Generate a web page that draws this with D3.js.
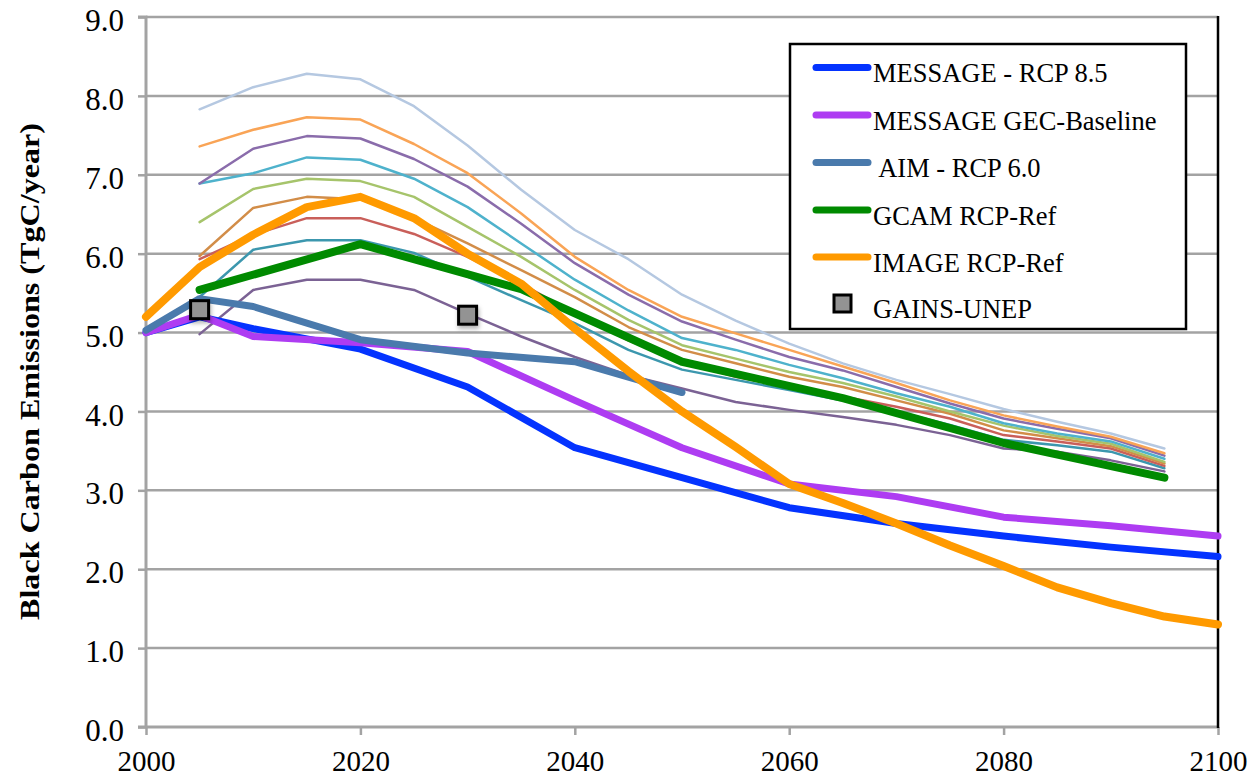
<!DOCTYPE html>
<html>
<head>
<meta charset="utf-8">
<script src="https://cdn.jsdelivr.net/npm/d3@7"></script>
<style>
  html, body { margin: 0; padding: 0; background: #fff; }
  svg { display: block; }
  text { font-family: "Liberation Serif", "Times New Roman", serif; fill: #000; }
</style>
</head>
<body>
<svg id="chart" width="1254" height="778"></svg>
<script>
// ---------- DATA ----------
const xTicks = [2000, 2020, 2040, 2060, 2080, 2100];
const yTicks = [0, 1, 2, 3, 4, 5, 6, 7, 8, 9];

// background (unlabelled) scenario years and values
const thinYears = [2005, 2010, 2015, 2020, 2025, 2030, 2035, 2040, 2045, 2050, 2055, 2060, 2065, 2070, 2075, 2080, 2085, 2090, 2095];
const thinLightBlue  = [7.83, 8.11, 8.28, 8.21, 7.87, 7.37, 6.81, 6.30, 5.93, 5.48, 5.15, 4.86, 4.61, 4.40, 4.22, 4.03, 3.87, 3.72, 3.53];
const thinOrange     = [7.36, 7.57, 7.73, 7.70, 7.39, 7.02, 6.51, 5.96, 5.54, 5.20, 4.99, 4.78, 4.57, 4.36, 4.14, 3.95, 3.81, 3.68, 3.47];
const thinPurple     = [6.89, 7.33, 7.49, 7.46, 7.20, 6.85, 6.38, 5.88, 5.48, 5.14, 4.91, 4.69, 4.52, 4.31, 4.10, 3.91, 3.78, 3.66, 3.44];
const thinCyan       = [6.89, 7.02, 7.22, 7.19, 6.95, 6.59, 6.13, 5.67, 5.28, 4.93, 4.78, 4.59, 4.42, 4.23, 4.06, 3.85, 3.72, 3.62, 3.40];
const thinLightGreen = [6.40, 6.82, 6.95, 6.92, 6.72, 6.34, 5.96, 5.54, 5.16, 4.84, 4.67, 4.50, 4.36, 4.19, 4.00, 3.82, 3.69, 3.59, 3.36];
const thinBrown      = [5.97, 6.58, 6.72, 6.69, 6.45, 6.13, 5.79, 5.45, 5.07, 4.78, 4.61, 4.44, 4.31, 4.14, 3.97, 3.76, 3.66, 3.56, 3.34];
const thinRed        = [5.93, 6.24, 6.45, 6.45, 6.25, 5.96, 5.62, 5.24, 4.90, 4.63, 4.44, 4.31, 4.19, 4.06, 3.91, 3.70, 3.62, 3.53, 3.31];
const thinTeal       = [5.45, 6.05, 6.17, 6.17, 6.01, 5.71, 5.41, 5.12, 4.78, 4.53, 4.40, 4.27, 4.14, 4.00, 3.83, 3.64, 3.57, 3.49, 3.28];
const thinDarkPurple = [4.98, 5.54, 5.67, 5.67, 5.54, 5.24, 4.95, 4.69, 4.46, 4.29, 4.12, 4.02, 3.93, 3.83, 3.70, 3.53, 3.49, 3.38, 3.24];

// labelled scenarios
const messageYears  = [2000, 2005, 2010, 2020, 2030, 2040, 2050, 2060, 2070, 2080, 2090, 2100];
const messageRcp85  = [5.00, 5.20, 5.05, 4.79, 4.31, 3.54, 3.16, 2.78, 2.58, 2.42, 2.28, 2.16];
const messageGec    = [5.00, 5.22, 4.95, 4.87, 4.76, 4.14, 3.54, 3.08, 2.92, 2.66, 2.55, 2.42];
const aimYears      = [2000, 2005, 2010, 2020, 2030, 2040, 2050];
const aimRcp60      = [5.03, 5.43, 5.33, 4.91, 4.74, 4.63, 4.24];
const gcamYears     = [2005, 2020, 2035, 2050, 2065, 2080, 2095];
const gcamRef       = [5.54, 6.12, 5.55, 4.63, 4.17, 3.60, 3.16];
const imageYears    = [2000, 2005, 2010, 2015, 2020, 2025, 2030, 2035, 2040, 2045, 2050, 2055, 2060, 2065, 2070, 2075, 2080, 2085, 2090, 2095, 2100];
const imageRef      = [5.20, 5.83, 6.24, 6.59, 6.72, 6.45, 6.00, 5.62, 5.05, 4.51, 4.00, 3.55, 3.08, 2.84, 2.58, 2.30, 2.04, 1.77, 1.57, 1.40, 1.30];
const gainsYears    = [2005, 2030];
const gainsUnep     = [5.29, 5.22];

const legendLabels = ["MESSAGE - RCP 8.5", "MESSAGE GEC-Baseline", " AIM - RCP 6.0", "GCAM RCP-Ref", "IMAGE RCP-Ref", "GAINS-UNEP"];
const yTitle = "Black Carbon Emissions (TgC/year)";

// ---------- STYLES ----------
const thinSeries = [
  {v: thinDarkPurple, c: "#7b6294"},
  {v: thinTeal,       c: "#3c97ae"},
  {v: thinRed,        c: "#c95f5a"},
  {v: thinBrown,      c: "#d28d48"},
  {v: thinLightGreen, c: "#a6c46b"},
  {v: thinCyan,       c: "#4eb2cc"},
  {v: thinPurple,     c: "#8a6cab"},
  {v: thinOrange,     c: "#f9a456"},
  {v: thinLightBlue,  c: "#b5c8e1"}
];
const thickSeries = [
  {x: messageYears, v: messageRcp85, c: "#0433ff", w: 7},
  {x: messageYears, v: messageGec,   c: "#ae3cf2", w: 7},
  {x: aimYears,     v: aimRcp60,     c: "#4a7aac", w: 7},
  {x: gcamYears,    v: gcamRef,      c: "#008a00", w: 8},
  {x: imageYears,   v: imageRef,     c: "#ff9a00", w: 8}
];

// ---------- CHART ----------
const svg = d3.select("#chart");
const L = 146, R = 1218, T = 17, B = 727;
const x = d3.scaleLinear().domain([2000, 2100]).range([L, R]);
const y = d3.scaleLinear().domain([0, 9]).range([B, T]);
const gridCol = "#a3a3a3";

// gridlines
svg.append("g").selectAll("line").data(yTicks.slice(1)).join("line")
  .attr("x1", L).attr("x2", R)
  .attr("y1", d => y(d)).attr("y2", d => y(d))
  .attr("stroke", gridCol).attr("stroke-width", 2.5);

// y axis
const yAxis = svg.append("g").attr("transform", `translate(${L},0)`)
  .call(d3.axisLeft(y).tickValues(yTicks).tickSize(8).tickPadding(14).tickFormat(d3.format(".1f")));
yAxis.select(".domain").attr("stroke", gridCol).attr("stroke-width", 3).attr("d", `M-8,${T}H0V${B}H-8`);
yAxis.selectAll(".tick line").attr("stroke", gridCol).attr("stroke-width", 2.5);
yAxis.selectAll(".tick text").attr("font-size", 31).attr("dy", "0.44em")
  .style("font-family", '"Liberation Serif", "Times New Roman", serif').attr("fill", "#000");

// x axis
const xAxis = svg.append("g").attr("transform", `translate(0,${B})`)
  .call(d3.axisBottom(x).tickValues(xTicks).tickSize(8).tickPadding(0).tickFormat(d3.format("d")));
xAxis.select(".domain").attr("stroke", gridCol).attr("stroke-width", 3).attr("d", `M${L},0H${R}`);
xAxis.selectAll(".tick line").attr("stroke", gridCol).attr("stroke-width", 2.5);
xAxis.selectAll(".tick text").attr("font-size", 29).attr("y", 44).attr("dy", 0)
  .style("font-family", '"Liberation Serif", "Times New Roman", serif').attr("fill", "#000");

// right border
svg.append("line").attr("x1", R).attr("x2", R).attr("y1", T - 1).attr("y2", B + 1)
  .attr("stroke", "#000").attr("stroke-width", 2.5);

// y title
svg.append("text")
  .attr("transform", `translate(39,${(123 + 620) / 2}) rotate(-90)`)
  .attr("text-anchor", "middle").attr("font-weight", "bold").attr("font-size", 28)
  .attr("textLength", 497).attr("lengthAdjust", "spacingAndGlyphs")
  .text(yTitle);

// lines
const line = d3.line().x(d => x(d[0])).y(d => y(d[1]));
const plot = svg.append("g");
thinSeries.forEach(s => {
  plot.append("path").datum(thinYears.map((yr, i) => [yr, s.v[i]]))
    .attr("d", line).attr("fill", "none").attr("stroke", s.c)
    .attr("stroke-width", 2.5).attr("stroke-linejoin", "round").attr("stroke-linecap", "round");
});
thickSeries.forEach(s => {
  plot.append("path").datum(s.x.map((yr, i) => [yr, s.v[i]]))
    .attr("d", line).attr("fill", "none").attr("stroke", s.c)
    .attr("stroke-width", s.w).attr("stroke-linejoin", "round").attr("stroke-linecap", "round");
});

// shadow filter
const defs = svg.append("defs");
const f = defs.append("filter").attr("id", "sh").attr("x", "-50%").attr("y", "-50%").attr("width", "200%").attr("height", "200%");
f.append("feDropShadow").attr("dx", 1).attr("dy", 3).attr("stdDeviation", 2).attr("flood-color", "#000").attr("flood-opacity", 0.3);

// GAINS markers
plot.selectAll("rect.gains").data(gainsYears.map((yr, i) => [yr, gainsUnep[i]])).join("rect")
  .attr("class", "gains")
  .attr("x", d => x(d[0]) - 9).attr("y", d => y(d[1]) - 9)
  .attr("width", 18).attr("height", 18)
  .attr("fill", "#939393").attr("stroke", "#000").attr("stroke-width", 3)
  .attr("filter", "url(#sh)");

// legend
const lg = svg.append("g");
lg.append("rect").attr("x", 790).attr("y", 44).attr("width", 396).attr("height", 285)
  .attr("fill", "#fff").attr("stroke", "#000").attr("stroke-width", 2.5);
const rowY = [67.5, 115, 162.5, 210, 257, 304];
thickSeries.forEach((s, i) => {
  lg.append("line").attr("x1", 816).attr("x2", 868).attr("y1", rowY[i]).attr("y2", rowY[i])
    .attr("stroke", s.c).attr("stroke-width", 7).attr("stroke-linecap", "round");
});
lg.append("rect").attr("x", 834).attr("y", rowY[5] - 9).attr("width", 17).attr("height", 17)
  .attr("fill", "#939393").attr("stroke", "#000").attr("stroke-width", 3);
lg.selectAll("text").data(legendLabels).join("text")
  .attr("x", 873).attr("y", (d, i) => rowY[i] + (i === 5 ? 14 : 14.5))
  .attr("font-size", 26.5).style("white-space", "pre").attr("xml:space", "preserve")
  .text(d => d);
</script>
</body>
</html>
